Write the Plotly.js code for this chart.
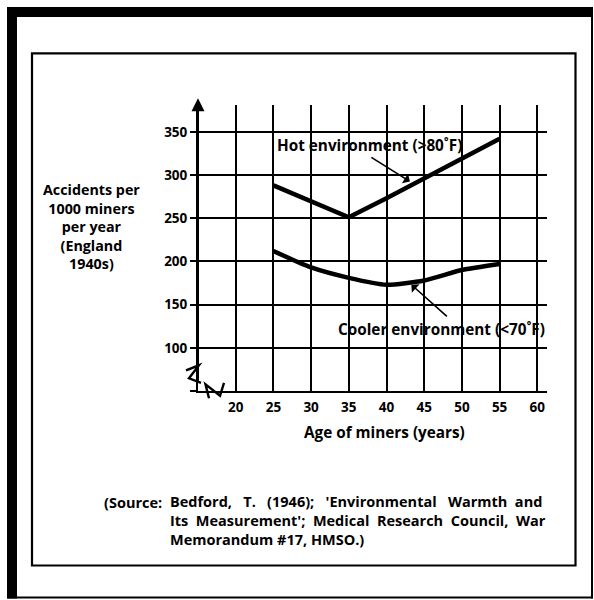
<!DOCTYPE html>
<html>
<head>
<meta charset="utf-8">
<script src="https://cdn.plot.ly/plotly-3.0.1.min.js"></script>
<style>html,body{margin:0;padding:0;background:#fff;}#chart{width:594px;height:600px;}</style>
</head>
<body>
<div id="chart"></div>
<script>
// ---- data ----
const ages = [25, 30, 35, 40, 45, 50, 55];
const hotAccidents = [288, 269, 251, 273, 296, 319, 342];
const coolAccidents = [212, 193, 181, 173, 178, 190, 197];
const xTickVals = [20, 25, 30, 35, 40, 45, 50, 55, 60];
const xTickText = ['20', '25', '30', '35', '40', '45', '50', '55', '60'];
const yTickVals = [50, 100, 150, 200, 250, 300, 350];
const yTickText = ['', '100', '150', '200', '250', '300', '350'];
const yTitleLines = ['Accidents per', '1000 miners', 'per year', '(England', '1940s)'];
const sourceLead = '(Source:';
const sourceLines = [
  "Bedford,   T.   (1946);   'Environmental   Warmth  and",
  "Its  Measurement';  Medical  Research  Council,  War",
  "Memorandum #17, HMSO.)"
];
const hotLabel = 'Hot environment (>80˚F)';
const coolLabel = 'Cooler environment (<70˚F)';
const xTitle = 'Age of miners (years)';

// ---- layout geometry (pixels) ----
const W = 594, H = 600;
const L = 198, R = 547, T = 105, B = 390.7;
const PW = R - L, PH = B - T;
const px = v => (v - L) / PW;      // pixel x -> paper x
const py = v => (B - v) / PH;      // pixel y -> paper y
const FONT = '"Open Sans", sans-serif';
const WEIGHT = 'bold';

function rect(x0, y0, x1, y1, fill, lw) {
  return {type: 'rect', xref: 'paper', yref: 'paper', x0: px(x0), x1: px(x1), y0: py(y1), y1: py(y0),
    fillcolor: fill || 'rgba(0,0,0,0)', line: {color: '#000', width: lw || 0}, layer: 'above'};
}
function poly(pts, w) {
  const d = pts.map((p, i) => (i ? 'L' : 'M') + px(p[0]).toFixed(5) + ',' + py(p[1]).toFixed(5)).join(' ');
  return {type: 'path', xref: 'paper', yref: 'paper', path: d, line: {color: '#000', width: w}, layer: 'above'};
}

const shapes = [
  rect(7, 7, 593, 17, '#000', 0),
  rect(7, 7, 17, 598, '#000', 0),
  rect(591, 7, 593, 598, '#000', 0),
  rect(7, 596, 593, 598, '#000', 0),
  rect(32, 53.5, 575.5, 565, null, 2.2),
  // axis break marks
  poly([[186, 370], [199, 365], [189, 378], [201, 382.5]], 2.4),
  poly([[209, 398], [205.5, 384], [220, 395.5], [224, 382.5]], 2.4)
];

const ann = [];
const txt = (text, x, y, xanchor, size, align) => ann.push({
  text: text, xref: 'paper', yref: 'paper', x: px(x), y: py(y), xanchor: xanchor, yanchor: 'middle',
  align: align || 'center',
  showarrow: false, font: {family: FONT, size: size, color: '#000', weight: WEIGHT}, borderpad: 0, borderwidth: 0
});
txt(yTitleLines.join('<br>'), 91.7, 226, 'center', 14.3, 'center');
txt(xTitle, 384, 432, 'center', 15.3);
txt(sourceLead, 104, 502, 'left', 14.5);
txt(sourceLines.join('<br>'), 170, 520.5, 'left', 14.5, 'left');
txt(hotLabel, 277, 145, 'left', 15.3);
txt(coolLabel, 338, 329, 'left', 15.3);

// y axis arrow
ann.push({text: '', x: 15, y: 389, xref: 'x', yref: 'y', ax: 15, ay: 60, axref: 'x', ayref: 'y',
  showarrow: true, arrowhead: 2, arrowsize: 1.3, arrowwidth: 2, arrowcolor: '#000', standoff: 0, startstandoff: 0});
// label pointer arrows
ann.push({text: '', x: 43.1, y: 292.5, xref: 'x', yref: 'y', ax: -40, ay: -25,
  showarrow: true, arrowhead: 1, arrowsize: 1.2, arrowwidth: 1.6, arrowcolor: '#000', standoff: 0});
ann.push({text: '', x: 43.3, y: 173, xref: 'x', yref: 'y', ax: 37, ay: 33,
  showarrow: true, arrowhead: 1, arrowsize: 1.2, arrowwidth: 1.6, arrowcolor: '#000', standoff: 0});

const traces = [
  {x: ages, y: hotAccidents, type: 'scatter', mode: 'lines', line: {color: '#000', width: 4.5}, hoverinfo: 'skip'},
  {x: ages, y: coolAccidents, type: 'scatter', mode: 'lines', line: {color: '#000', width: 4.5, shape: 'spline', smoothing: 0.6}, hoverinfo: 'skip'}
];

const tickFont = {family: FONT, size: 13.5, color: '#000', weight: WEIGHT};
const layout = {
  width: W, height: H,
  margin: {l: L, r: W - R, t: T, b: H - B, pad: 0},
  paper_bgcolor: '#fff', plot_bgcolor: '#fff',
  showlegend: false,
  font: {family: FONT, color: '#000'},
  xaxis: {
    range: [15, 15 + PW / 7.54], tickmode: 'array', tickvals: xTickVals, ticktext: xTickText,
    showgrid: true, gridcolor: '#000', gridwidth: 2, zeroline: false,
    showline: true, linecolor: '#000', linewidth: 2, ticks: '', ticklabelstandoff: 3,
    tickfont: tickFont, fixedrange: true
  },
  yaxis: {
    range: [50, 50 + PH / 0.863], tickmode: 'array', tickvals: yTickVals, ticktext: yTickText,
    showgrid: true, gridcolor: '#000', gridwidth: 2, zeroline: false,
    showline: true, linecolor: '#000', linewidth: 2, ticks: 'outside', ticklen: 6, tickwidth: 2, tickcolor: '#000',
    tickfont: tickFont, fixedrange: true
  },
  shapes: shapes,
  annotations: ann
};

Plotly.newPlot('chart', traces, layout, {staticPlot: true, displayModeBar: false});
</script>
</body>
</html>
